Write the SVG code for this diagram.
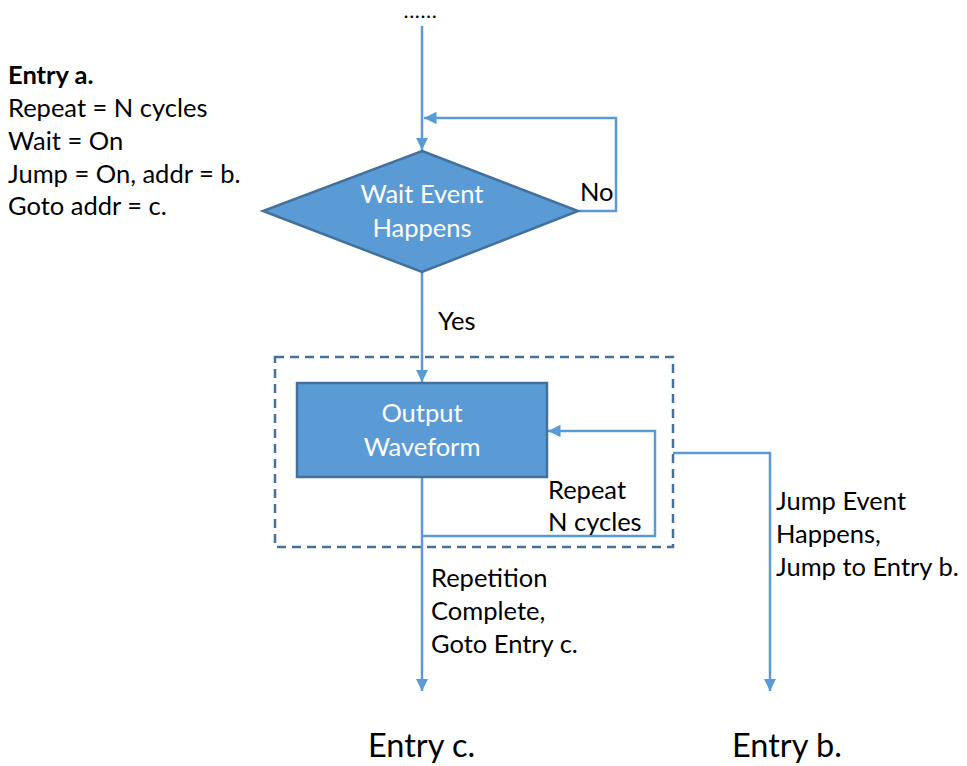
<svg xmlns="http://www.w3.org/2000/svg" width="967" height="766" viewBox="0 0 967 766">
<style>
.t{font-family:Lato,"Open Sans","Liberation Sans",sans-serif;font-size:25.5px;fill:#000}
.w{font-family:Lato,"Open Sans","Liberation Sans",sans-serif;font-size:25.5px;fill:#fff;text-anchor:middle}
.big{font-family:Lato,"Open Sans","Liberation Sans",sans-serif;font-size:32.5px;fill:#000}
.c{fill:none;stroke:#5b9bd5;stroke-width:2.5}
.s{fill:#5b9bd5;stroke:#41719c;stroke-width:2.5}
</style>
<defs>
<marker id="a" viewBox="0 0 10 10" refX="10" refY="5" markerWidth="5" markerHeight="5" markerUnits="strokeWidth" orient="auto">
<path d="M0,0 L10,5 L0,10 z" fill="#5b9bd5"/>
</marker>
</defs>
<rect width="967" height="766" fill="#fff"/>
<g id="group-dashed">
<rect x="275" y="357" width="398" height="190" fill="none" stroke="#41719c" stroke-width="2.5" stroke-dasharray="9,6"/>
</g>
<g id="connectors">
<line class="c" x1="422" y1="26" x2="422" y2="150" marker-end="url(#a)"/>
<polyline class="c" points="578,211 616,211 616,118 424,118" marker-end="url(#a)"/>
<line class="c" x1="422" y1="272" x2="422" y2="382" marker-end="url(#a)"/>
<polyline class="c" points="422,536 655,536 655,431 548,431" marker-end="url(#a)"/>
<line class="c" x1="422" y1="477" x2="422" y2="691" marker-end="url(#a)"/>
<polyline class="c" points="673,453 770,453 770,691" marker-end="url(#a)"/>
</g>
<g id="start">
<text x="404" y="18" style="font-family:Lato,sans-serif;font-size:17px;font-weight:bold" letter-spacing="1.6">......</text>
</g>
<g id="entry-a">
<text class="t" x="8" y="84" font-weight="bold">Entry a.</text>
<text class="t" x="8" y="117">Repeat = N cycles</text>
<text class="t" x="8" y="150">Wait = On</text>
<text class="t" x="8" y="183">Jump = On, addr = b.</text>
<text class="t" x="8" y="215">Goto addr = c.</text>
</g>
<g id="wait-event">
<polygon class="s" points="422,151 578,211 422,272 263,211"/>
<text class="w" x="422" y="203">Wait Event</text>
<text class="w" x="422" y="237">Happens</text>
</g>
<g id="output-waveform">
<rect class="s" x="297" y="383" width="250" height="94"/>
<text class="w" x="422" y="422">Output</text>
<text class="w" x="422" y="456">Waveform</text>
</g>
<g id="labels">
<text class="t" x="580" y="201">No</text>
<text class="t" x="438" y="330">Yes</text>
<text class="t" x="548" y="499">Repeat</text>
<text class="t" x="548" y="531">N cycles</text>
<text class="t" x="431" y="587">Repetition</text>
<text class="t" x="431" y="620">Complete,</text>
<text class="t" x="431" y="653">Goto Entry c.</text>
<text class="t" x="776" y="510">Jump Event</text>
<text class="t" x="776" y="543">Happens,</text>
<text class="t" x="776" y="576">Jump to Entry b.</text>
</g>
<g id="entry-c">
<text class="big" x="368" y="757">Entry c.</text>
</g>
<g id="entry-b">
<text class="big" x="732" y="757">Entry b.</text>
</g>
</svg>
